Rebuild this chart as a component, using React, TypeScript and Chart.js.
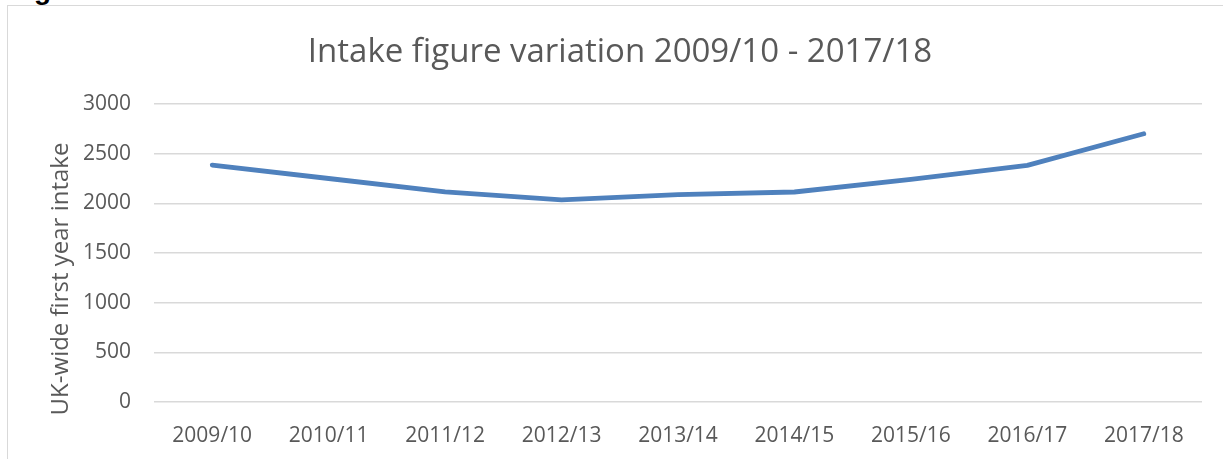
import React, { useEffect, useRef } from "react";
import { Chart, registerables } from "chart.js";

Chart.register(...registerables);

const categories = [
  "2009/10",
  "2010/11",
  "2011/12",
  "2012/13",
  "2013/14",
  "2014/15",
  "2015/16",
  "2016/17",
  "2017/18",
];
const intake = [2385, 2250, 2115, 2035, 2088, 2114, 2242, 2382, 2700];
const yMin = 0;
const yMax = 3000;
const yStep = 500;
const chartTitle = "Intake figure variation 2009/10 - 2017/18";
const yAxisTitle = "UK-wide first year intake";

const FONT = "'Open Sans', 'Noto Sans', sans-serif";
const TEXT = "#595959";

export default function App() {
  const ref = useRef<HTMLCanvasElement>(null);

  useEffect(() => {
    document.body.style.margin = "0";
    const textPlugin = {
      id: "customTexts",
      afterDraw(chart: any) {
        const ctx = chart.ctx as CanvasRenderingContext2D;
        ctx.save();
        ctx.fillStyle = TEXT;
        ctx.textAlign = "center";
        ctx.textBaseline = "middle";
        ctx.font = `33px ${FONT}`;
        ctx.fillText(chartTitle, chart.width / 2, 47);
        ctx.translate(53, 273);
        ctx.rotate(-Math.PI / 2);
        ctx.font = `24px ${FONT}`;
        ctx.fillText(yAxisTitle, 0, 0);
        ctx.restore();
      },
    };
    const chart = new Chart(ref.current as HTMLCanvasElement, {
      type: "line",
      data: {
        labels: categories,
        datasets: [
          {
            data: intake,
            borderColor: "rgb(79,129,189)",
            backgroundColor: "rgb(79,129,189)",
            borderWidth: 4.8,
            pointRadius: 0,
            tension: 0,
            borderCapStyle: "round",
            borderJoinStyle: "round",
          },
        ],
      },
      options: {
        animation: false,
        responsive: false,
        layout: { padding: { left: 0, right: 30, top: 98, bottom: 0 } },
        plugins: {
          legend: { display: false },
          tooltip: { enabled: false },
          title: { display: false },
        },
        scales: {
          x: {
            offset: true,
            grid: { display: false, offset: true },
            border: { display: false },
            ticks: {
              color: TEXT,
              font: { family: FONT, size: 21 },
              padding: 13,
              maxRotation: 0,
              autoSkip: false,
            },
            afterFit(s: any) {
              s.height = 57;
            },
          },
          y: {
            min: yMin,
            max: yMax,
            grid: { color: "#d9d9d9", lineWidth: 1.5, drawTicks: false },
            border: { display: false },
            ticks: {
              stepSize: yStep,
              color: TEXT,
              font: { family: FONT, size: 21 },
              padding: 23,
              callback: (v: any) => String(v),
            },
            afterFit(s: any) {
              s.width = 146;
            },
          },
        },
      },
      plugins: [textPlugin],
    } as any);
    return () => chart.destroy();
  }, []);

  return (
    <div
      style={{
        position: "relative",
        width: 1223,
        height: 459,
        overflow: "hidden",
        background: "#fff",
      }}
    >
      <div
        style={{
          position: "absolute",
          left: 34,
          top: -24,
          font: "bold 28px 'Liberation Sans', Arial, sans-serif",
          lineHeight: "28px",
          color: "#000",
        }}
      >
        g
      </div>
      <div
        style={{
          position: "absolute",
          left: 7,
          top: 5,
          width: 1224,
          height: 460,
          borderLeft: "1.5px solid #d9d9d9",
          borderTop: "1.5px solid #d9d9d9",
        }}
      >
        <canvas ref={ref} width={1224} height={453} style={{ display: "block" }} />
      </div>
    </div>
  );
}
